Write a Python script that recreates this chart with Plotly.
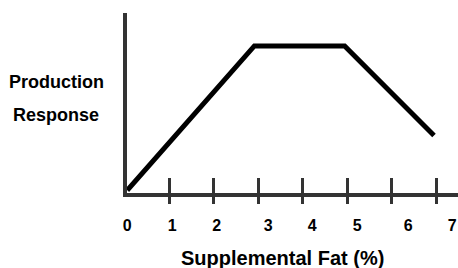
import plotly.graph_objects as go

# Data (arbitrary response units)
fat_pct = [0.05, 2.91, 4.94, 6.95]
response = [0.15, 8.17, 8.17, 3.2]

tick_marks = [1, 2, 3, 4, 5, 6, 7]
tick_labels = ["0", "1", "2", "3", "4", "5", "6", "7"]
label_pos = [0.05, 1.06, 2.06, 3.22, 4.21, 5.22, 6.37, 7.36]

FONT = "Liberation Sans, Arial, sans-serif"
AX = "#333333"
XR = [0.045, 7.49]

fig = go.Figure()
fig.add_trace(go.Scatter(
    x=fat_pct, y=response, mode="lines",
    line=dict(color="black", width=5),
    cliponaxis=False, hoverinfo="skip", showlegend=False,
))

fig.update_layout(
    width=458, height=268,
    margin=dict(l=127, r=0, t=13, b=75, autoexpand=False),
    paper_bgcolor="white", plot_bgcolor="white",
    showlegend=False,
    xaxis=dict(
        range=XR, showgrid=False, zeroline=False,
        showline=True, linecolor=AX, linewidth=4,
        tickmode="array", tickvals=tick_marks, ticks="inside",
        ticklen=15, tickwidth=3, tickcolor=AX, showticklabels=False,
    ),
    xaxis2=dict(
        range=XR, overlaying="x", side="bottom", showgrid=False,
        zeroline=False, showline=False,
        tickmode="array", tickvals=tick_marks, ticks="outside",
        ticklen=10, tickwidth=3, tickcolor=AX, showticklabels=False,
    ),
    xaxis3=dict(
        range=XR, overlaying="x", side="bottom", showgrid=False,
        zeroline=False, showline=False, ticks="",
        tickmode="array", tickvals=label_pos, ticktext=tick_labels,
        tickfont=dict(family=FONT, size=16, color="black", weight="bold"),
        ticklabelstandoff=21,
    ),
    yaxis=dict(
        range=[0, 10], showgrid=False, zeroline=False,
        showline=True, linecolor=AX, linewidth=4,
        ticks="", showticklabels=False,
    ),
    annotations=[
        dict(text="Production", xref="paper", yref="paper", x=(56 - 127) / 331, y=(193 - 82) / 180,
             showarrow=False, xanchor="center", yanchor="middle",
             font=dict(family=FONT, size=18, color="black", weight="bold")),
        dict(text="Response", xref="paper", yref="paper", x=(56 - 127) / 331, y=(193 - 115) / 180,
             showarrow=False, xanchor="center", yanchor="middle",
             font=dict(family=FONT, size=18, color="black", weight="bold")),
        dict(text="Supplemental Fat (%)", xref="paper", yref="paper",
             x=(282 - 127) / 331, y=(193 - 257.5) / 180,
             showarrow=False, xanchor="center", yanchor="middle",
             font=dict(family=FONT, size=20, color="black", weight="bold")),
    ],
)

# dummy traces to activate the overlay axes
fig.add_trace(go.Scatter(x=[None], y=[None], xaxis="x2", showlegend=False, hoverinfo="skip"))
fig.add_trace(go.Scatter(x=[None], y=[None], xaxis="x3", showlegend=False, hoverinfo="skip"))

fig.write_html("out.html", config={"displayModeBar": False},
               post_script="document.body.style.margin='0';document.body.style.overflow='hidden';")
